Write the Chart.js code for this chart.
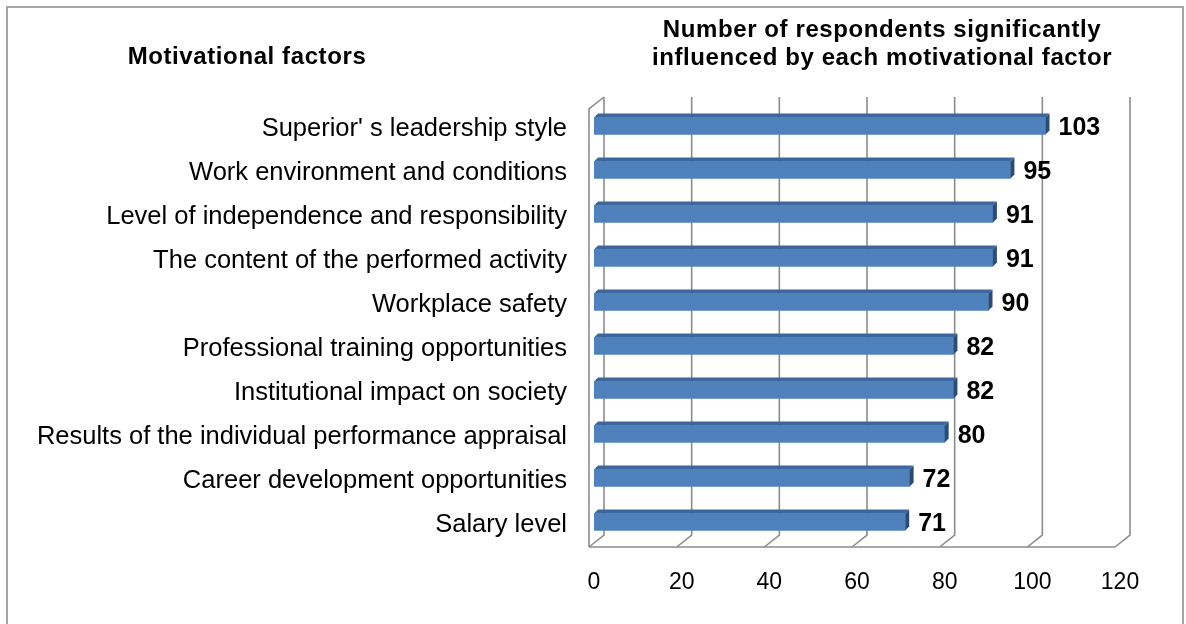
<!DOCTYPE html>
<html>
<head>
<meta charset="utf-8">
<script src="https://cdn.jsdelivr.net/npm/chart.js@4.4.1/dist/chart.umd.min.js"></script>
<style>
  html, body { margin: 0; padding: 0; background: #ffffff; }
  #wrap { width: 1186px; height: 624px; position: relative; }
</style>
</head>
<body>
<div id="wrap"><canvas id="chart"></canvas></div>
<script>
const CATEGORIES = [
  "Superior' s leadership style",
  "Work environment and conditions",
  "Level of independence and responsibility",
  "The content of the performed activity",
  "Workplace safety",
  "Professional training opportunities",
  "Institutional impact on society",
  "Results of the individual performance appraisal",
  "Career development opportunities",
  "Salary level",
];

const RESPONDENTS = [103, 95, 91, 91, 90, 82, 82, 80, 72, 71];

const X_TICKS = [0, 20, 40, 60, 80, 100, 120];

const LEFT_TITLE = "Motivational factors";
const RIGHT_TITLE = [
  "Number of respondents significantly",
  "influenced by each motivational factor",
];

const COLORS = {
  black: "#000000",
  frame: "#a6a6a6",
  grid: "#8c8c8c",
  barFront: "#4f81bd",
  barTop: "#3c679c",
  barSide: "#2c4c74",
};

const FONT = "'Liberation Sans', Arial, sans-serif";

// 3d box walls and gridlines, drawn behind the bars
const wallsPlugin = {
  id: "walls",
  beforeDatasetsDraw: (chart) => {
    const { ctx, chartArea, scales } = chart;
    const x = scales.x;
    const backTop = chartArea.top - 7;
    const frontTop = chartArea.top + 5;
    const backFloor = chartArea.bottom - 9;
    const frontFloor = chartArea.bottom + 3;

    ctx.save();
    ctx.strokeStyle = COLORS.grid;
    ctx.lineWidth = 1.6;

    X_TICKS.forEach((v) => {
      const px = x.getPixelForValue(v);
      ctx.beginPath();
      ctx.moveTo(px + 10, backTop);
      ctx.lineTo(px + 10, backFloor);
      ctx.lineTo(px - 5, frontFloor);
      ctx.stroke();
    });

    // left wall
    const x0 = x.getPixelForValue(0);
    ctx.beginPath();
    ctx.moveTo(x0 + 10, backTop);
    ctx.lineTo(x0 - 5, frontTop);
    ctx.lineTo(x0 - 5, frontFloor);
    ctx.stroke();

    // floor front edge
    const xMax = x.getPixelForValue(X_TICKS[X_TICKS.length - 1]);
    ctx.beginPath();
    ctx.moveTo(x0 - 5, frontFloor);
    ctx.lineTo(xMax - 5, frontFloor);
    ctx.stroke();

    ctx.restore();
  },
};

// top and side faces of the bars, values and titles
const decorPlugin = {
  id: "decor",
  afterDatasetsDraw: (chart) => {
    const { ctx } = chart;
    const meta = chart.getDatasetMeta(0);
    const depth = 4;

    ctx.save();
    meta.data.forEach((bar, i) => {
      const { x, y, base, height } = bar.getProps(["x", "y", "base", "height"], true);
      const top = y - height / 2;
      const bottom = y + height / 2;

      // top face
      ctx.fillStyle = COLORS.barTop;
      ctx.beginPath();
      ctx.moveTo(base, top);
      ctx.lineTo(base + depth, top - depth);
      ctx.lineTo(x + depth, top - depth);
      ctx.lineTo(x, top);
      ctx.closePath();
      ctx.fill();

      // side face
      ctx.fillStyle = COLORS.barSide;
      ctx.beginPath();
      ctx.moveTo(x, top);
      ctx.lineTo(x + depth, top - depth);
      ctx.lineTo(x + depth, bottom - depth);
      ctx.lineTo(x, bottom);
      ctx.closePath();
      ctx.fill();

      // value label
      ctx.fillStyle = COLORS.black;
      ctx.font = "bold 25px " + FONT;
      ctx.textAlign = "left";
      ctx.textBaseline = "middle";
      ctx.fillText(String(RESPONDENTS[i]), x + 13, y + 2);
    });

    // titles
    ctx.font = "bold 24px " + FONT;
    ctx.letterSpacing = "0.6px";
    ctx.textAlign = "center";
    ctx.textBaseline = "alphabetic";
    ctx.fillText(LEFT_TITLE, 247, 64);
    ctx.fillText(RIGHT_TITLE[0], 882, 37);
    ctx.fillText(RIGHT_TITLE[1], 882, 65);
    ctx.letterSpacing = "0px";

    // outer frame
    ctx.strokeStyle = COLORS.frame;
    ctx.lineWidth = 2;
    ctx.strokeRect(7, 7, 1176, 700);
    ctx.restore();
  },
};

const ctx = document.getElementById("chart").getContext("2d");

new Chart(ctx, {
  type: "bar",
  data: {
    labels: CATEGORIES,
    datasets: [
      {
        data: RESPONDENTS,
        backgroundColor: COLORS.barFront,
        borderWidth: 0,
        barThickness: 17,
      },
    ],
  },
  options: {
    indexAxis: "y",
    responsive: true,
    maintainAspectRatio: false,
    animation: false,
    layout: {
      padding: { top: 104, right: 66, bottom: 0, left: 0 },
    },
    scales: {
      x: {
        min: 0,
        max: 120,
        grid: { display: false, drawTicks: false },
        border: { display: false },
        afterBuildTicks: (scale) => {
          scale.ticks = X_TICKS.map((v) => ({ value: v }));
        },
        afterFit: (scale) => {
          scale.height = 80;
        },
        ticks: {
          color: COLORS.black,
          font: { family: FONT, size: 23 },
          padding: 25,
          maxRotation: 0,
        },
      },
      y: {
        grid: { display: false, drawTicks: false },
        border: { display: false },
        afterFit: (scale) => {
          scale.width = 594;
        },
        ticks: {
          color: COLORS.black,
          font: { family: FONT, size: 25.5 },
          padding: 27,
          labelOffset: 3,
        },
      },
    },
    plugins: {
      legend: { display: false },
      tooltip: { enabled: false },
    },
  },
  plugins: [wallsPlugin, decorPlugin],
});
</script>
</body>
</html>
